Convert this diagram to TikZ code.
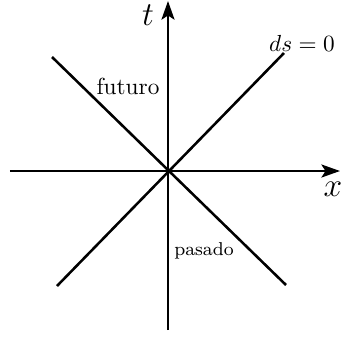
\documentclass[tikz,border=0pt]{standalone}
\usepackage{tikz}
\usetikzlibrary{arrows.meta}
\usepackage{amssymb}
\usepackage{amsfonts}

\begin{document}
\begin{tikzpicture}[x=0.43pt,y=0.43pt,yscale=-1,xscale=1]
\tikzset{axis/.style={line width=1.1pt,-{Stealth[length=8pt,width=5.6pt,inset=1.8pt]}},
  cone/.style={line width=1.1pt}}
\useasboundingbox (0,0) rectangle (342,337);

% Points
\coordinate (O) at (168,171);
\coordinate (xl) at (10,171);
\coordinate (xr) at (340,171);
\coordinate (tb) at (168,330);
\coordinate (tt) at (168,1);
\coordinate (ul) at (52,57);
\coordinate (lr) at (286,285);
\coordinate (ll) at (57,286);
\coordinate (ur) at (284,53);

%Straight Lines
\draw [axis] (xl) -- (xr);
%Straight Lines
\draw [axis] (tb) -- (tt);
%Straight Lines
\draw [cone] (ul) -- (lr);
%Straight Lines
\draw [cone] (ll) -- (ur);

% Text Node
\node (tlabel) at (148,15) {\Large $t$};
% Text Node
\node (xlabel) at (333,189) {\Large $x$};
% Text Node
\node (ds) at (302,43) {$ds=0$};
% Text Node
\node (futuro) at (128,86) {futuro};
% Text Node
\node (pasado) at (204,251) {\footnotesize pasado};

\end{tikzpicture}
\end{document}
